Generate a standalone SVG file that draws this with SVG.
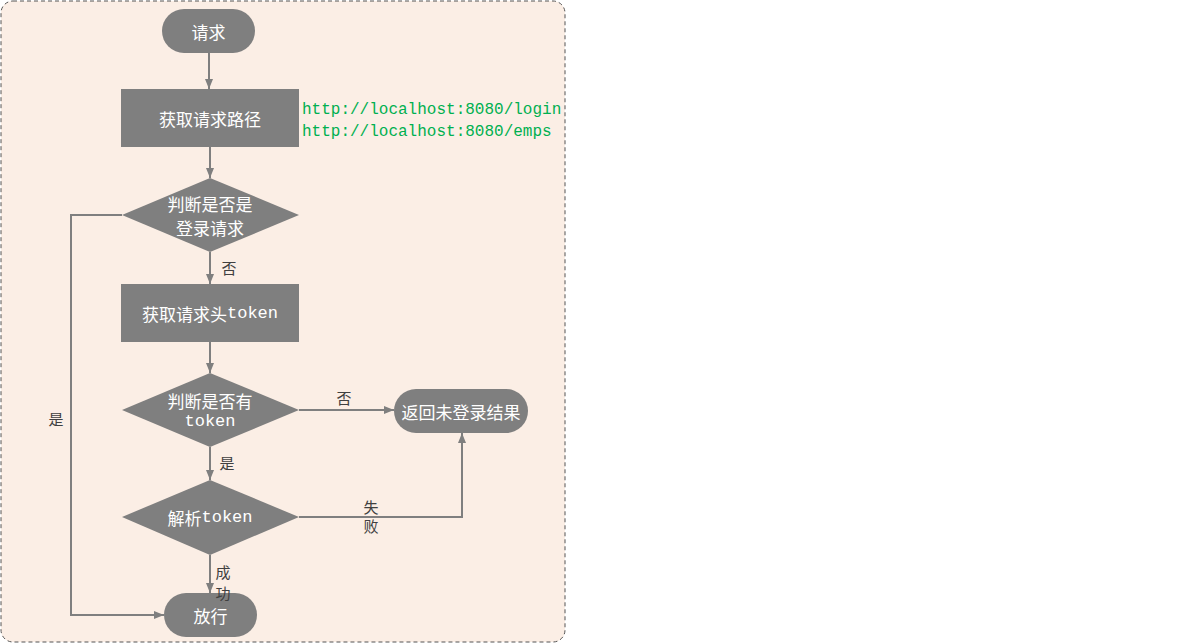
<svg xmlns="http://www.w3.org/2000/svg" width="1197" height="644" viewBox="0 0 1197 644">
<style>
.n{fill:#7F7F7F}
.t{fill:#FFFFFF;font-family:"Noto Sans CJK SC","Liberation Sans",sans-serif;font-size:17px;text-anchor:middle;dominant-baseline:central}
.m{font-family:"Liberation Mono","Noto Sans CJK SC",monospace}
.e{fill:none;stroke:#7F7F7F;stroke-width:2}
.l{fill:#404040;font-family:"Noto Sans CJK SC",sans-serif;font-size:15px;text-anchor:middle;dominant-baseline:central}
.u{fill:#00B050;font-family:"Liberation Mono","DejaVu Sans Mono",monospace;font-size:16px}
</style>
<defs>
<marker id="a" viewBox="0 0 10 10" refX="10" refY="5" markerWidth="10" markerHeight="10" orient="auto" markerUnits="userSpaceOnUse">
<path d="M0,1 L10,5 L0,9 z" fill="#7F7F7F"/>
</marker>
</defs>
<rect x="1" y="1" width="564" height="641" rx="12" fill="#FBEEE5" stroke="#555" stroke-width="1" stroke-dasharray="4,3"/>
<g id="connectors">
<path class="e" d="M209,53 V89" marker-end="url(#a)"/>
<path class="e" d="M210,147 V178" marker-end="url(#a)"/>
<path class="e" d="M210,252 V284" marker-end="url(#a)"/>
<path class="e" d="M210,342 V373" marker-end="url(#a)"/>
<path class="e" d="M210,447 V480" marker-end="url(#a)"/>
<path class="e" d="M210,555 V593" marker-end="url(#a)"/>
<path class="e" d="M122,215 H71 V615 H164" marker-end="url(#a)"/>
<path class="e" d="M299,410 H394" marker-end="url(#a)"/>
<path class="e" d="M299,517 H462 V433" marker-end="url(#a)"/>
</g>
<g id="n1"><rect class="n" x="162" y="9" width="93" height="44" rx="22"/><text class="t" x="208.5" y="31">请求</text></g>
<g id="n2"><rect class="n" x="121" y="89" width="178" height="58"/><text class="t" x="210" y="118">获取请求路径</text></g>
<g id="urls"><text class="u" x="302" y="114">http://localhost:8080/login</text><text class="u" x="302" y="136">http://localhost:8080/emps</text></g>
<g id="n3"><polygon class="n" points="210,178 299,215 210,252 122,215"/><text class="t" x="210" y="203.5" font-size="15">判断是否是<tspan x="210" dy="23">登录请求</tspan></text></g>
<g id="n4"><rect class="n" x="121" y="284" width="178" height="58"/><text class="t" x="210" y="313">获取请求头<tspan class="m">token</tspan></text></g>
<g id="n5"><polygon class="n" points="210,373 299,410 210,447 122,410"/><text class="t" x="210" y="400" font-size="16.5">判断是否有<tspan class="m" x="210" dy="21" font-size="17">token</tspan></text></g>
<g id="n6"><polygon class="n" points="210,480 299,517 210,555 122,517"/><text class="t" x="210" y="517">解析<tspan class="m">token</tspan></text></g>
<g id="n7"><rect class="n" x="164" y="593" width="93" height="44" rx="22"/><text class="t" x="210.5" y="615">放行</text></g>
<g id="n8"><rect class="n" x="394" y="389" width="134" height="44" rx="22"/><text class="t" x="461" y="411">返回未登录结果</text></g>
<g id="labels">
<text class="l" x="229" y="267">否</text>
<text class="l" x="227" y="462">是</text>
<text class="l" x="56" y="418">是</text>
<text class="l" x="344" y="397">否</text>
<text class="l" x="371" y="506">失<tspan x="371" dy="19">败</tspan></text>
<text class="l" x="223" y="571" font-size="14">成<tspan x="223" dy="20.5">功</tspan></text>
</g>
</svg>
